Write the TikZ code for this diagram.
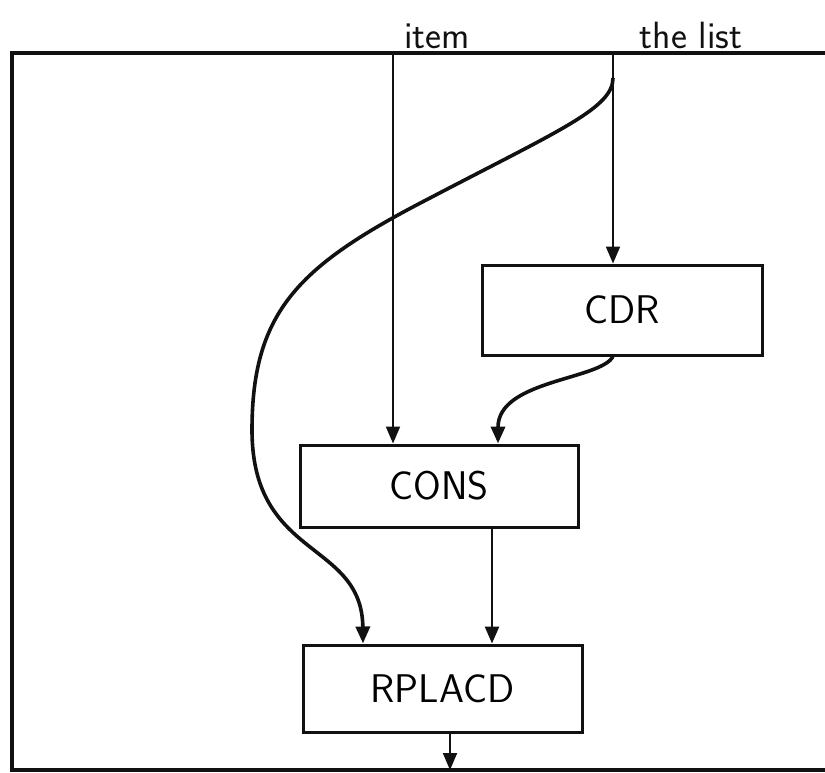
\documentclass[tikz,border=0pt]{standalone}
\usepackage{tikz}
\usetikzlibrary{arrows.meta,calc,positioning}
\definecolor{ink}{HTML}{111111}

\begin{document}
\begin{tikzpicture}[x=0.5pt,y=-0.5pt,>={Triangle[length=8.5pt,width=7pt]},
  fnbox/.style={draw=ink,line width=1.5pt,minimum width=140pt,font=\sffamily\fontsize{20}{24}\selectfont},
  flow/.style={->,draw=ink,line width=1pt},
  curveflow/.style={->,draw=ink,line width=1.8pt},
  inlabel/.style={anchor=base,text=ink,font=\sffamily\fontsize{19}{22}\selectfont}]
\useasboundingbox (0,0) rectangle (825,772);
% frame
\draw[ink,line width=2pt] (825,53) -- (12,53) -- (12,770) -- (825,770);
\node[inlabel] (itemlbl) at (437,48) {item};
\node[inlabel] (listlbl) at (691,48) {the list};
\coordinate (itemin) at (393,53);
\coordinate (listin) at (613,53);
\coordinate (split) at (613,78);
% functions
\node[fnbox,minimum height=45pt] (cdr) at (622,310) {CDR};
\node[fnbox,minimum width=139pt,minimum height=41pt] (cons) at (439,486) {CONS};
\node[fnbox,minimum width=139.5pt,minimum height=43.5pt] (rplacd) at (442.5,688.5) {RPLACD};
\coordinate (mid) at ([xshift=26.5pt]cons.south);
\coordinate (out) at (450,770);
\draw[flow] (listin) -- (listin |- cdr.north);
\draw[flow] (itemin) -- (itemin |- cons.north);
\draw[curveflow] (cdr.south -| listin) .. controls (600,380) and (498,380) .. ([xshift=29.5pt]cons.north);
\draw[curveflow] (split) .. controls (613,108) and (560,130) .. (430,198)
  .. controls (300,265) and (252,310) .. (252,430)
  .. controls (252,560) and (362,540) .. ([xshift=-39.75pt]rplacd.north);
\draw[flow,line width=1.3pt] (mid) -- (mid |- rplacd.north);
\draw[flow] (out |- rplacd.south) -- (out);
\end{tikzpicture}
\end{document}
